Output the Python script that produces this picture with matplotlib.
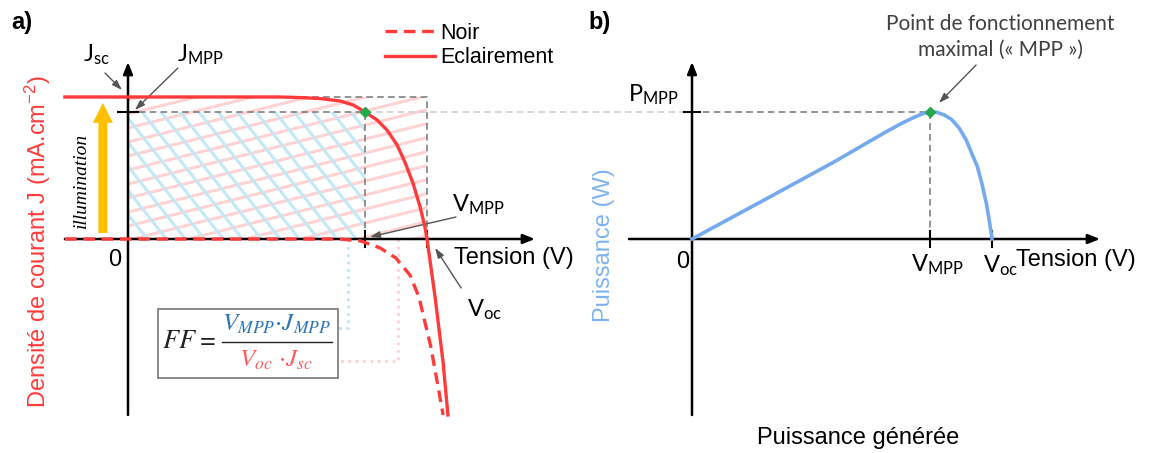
import numpy as np
import matplotlib.pyplot as plt
from matplotlib.patches import Rectangle, FancyArrow
from matplotlib.collections import LineCollection

plt.rcParams['font.family'] = ['Liberation Sans', 'DejaVu Sans']
plt.rcParams['mathtext.default'] = 'regular'

# points caracteristiques (unites normalisees : Voc = 1, Jsc = 1, Pmpp = 1)
V_MPP, J_MPP = 0.793, 0.894
V_OC, J_SC = 1.0, 1.0
P_MPP = 1.0

# courbe J(V) sous eclairement
v_light = [-0.211, 0.508, 0.575, 0.642, 0.709, 0.753, 0.793, 0.833, 0.866, 0.900,
           0.926, 0.953, 0.977, 0.993, 1.0, 1.027, 1.054, 1.070]
j_light = [1.0, 1.0, 0.996, 0.989, 0.972, 0.944, 0.894, 0.838, 0.768, 0.662,
           0.542, 0.394, 0.225, 0.085, 0.0, -0.408, -0.873, -1.239]

# courbe J(V) dans le noir
v_dark = [-0.211, 0.709, 0.779, 0.843, 0.896, 0.943, 0.973, 1.013, 1.054]
j_dark = [0.0, 0.0, -0.014, -0.063, -0.134, -0.254, -0.408, -0.761, -1.239]

# puissance generee P(V)
v_pow = [0.0, 0.235, 0.476, 0.600, 0.650, 0.700, 0.740, 0.770, 0.793, 0.815, 0.840,
         0.866, 0.890, 0.914, 0.935, 0.951, 0.967, 0.981, 0.992, 1.0]
p_pow = [0.0, 0.300, 0.610, 0.780, 0.848, 0.912, 0.958, 0.988, 1.0, 0.998, 0.978,
         0.940, 0.875, 0.780, 0.660, 0.572, 0.430, 0.283, 0.130, 0.0]

RED = '#FF3B3B'
BLUE = '#75AAEE'
GREEN = '#21A94B'
GREY = '#808080'
ARR = '#555555'

W, H = 1151, 453
fig = plt.figure(figsize=(W / 100, H / 100), dpi=100)


def arrow(ax, xy, xytext, color=ARR, lw=1.0, hl=0.6, hw=0.2):
    ax.annotate('', xy=xy, xytext=xytext, annotation_clip=False,
                arrowprops=dict(arrowstyle='-|>,head_length=%g,head_width=%g' % (hl, hw),
                                color=color, lw=lw, shrinkA=0, shrinkB=0))


# ---------------- a) ----------------
ax1 = fig.add_axes([60 / W, 33 / H, 480 / W, 362 / H])
ax1.set_xlim(-0.2274, 1.3779)
ax1.set_ylim(-1.2746, 1.2746)
ax1.axis('off')

# hachures
clip_pink = Rectangle((0, 0), V_OC, J_SC, fc='none', ec='none')
ax1.add_patch(clip_pink)
segs = [[(-0.1, y0 - 0.05), (1.2, y0 + 0.505 * 1.25)] for y0 in np.arange(-0.7, 1.1, 0.0986)]
lc = LineCollection(segs, colors='#FFD3D3', linewidths=2.2, zorder=1)
ax1.add_collection(lc)
lc.set_clip_path(clip_pink)

clip_blue = Rectangle((0, 0), V_MPP, J_MPP, fc='none', ec='none')
ax1.add_patch(clip_blue)
segs = [[(x0, -0.05), (x0 - 1.0 / 2.67, 0.95)] for x0 in np.arange(0.02, 1.2, 0.0635)]
lc = LineCollection(segs, colors='#C3E8F6', linewidths=2.2, zorder=2)
ax1.add_collection(lc)
lc.set_clip_path(clip_blue)

# rectangles en tirets
ax1.plot([0, V_OC, V_OC], [J_SC, J_SC, 0], ls=(0, (4, 2.5)), color=GREY, lw=1.2, zorder=3)
ax1.plot([0, V_MPP, V_MPP], [J_MPP, J_MPP, 0], ls=(0, (4, 2.5)), color=GREY, lw=1.2, zorder=3)
ax1.plot([V_MPP, 1.886], [J_MPP, J_MPP], ls=(0, (4, 2.5)), color='#CFCFCF', lw=1.2,
         zorder=3, clip_on=False)

# pointilles vers la formule
ax1.plot([0.736, 0.736, 0.686], [0, -0.627, -0.627], ls=':', color='#BDE3F5', lw=2, zorder=3)
ax1.plot([0.903, 0.903, 0.649], [0, -0.859, -0.859], ls=':', color='#FFD0D0', lw=2, zorder=3)

# axes
arrow(ax1, (1.361, 0), (-0.211, 0), color='black', lw=1.8, hl=0.7, hw=0.28)
arrow(ax1, (0, 1.246), (0, -1.239), color='black', lw=1.8, hl=0.7, hw=0.28)
for y in (J_SC, J_MPP):
    ax1.plot([-0.033, 0.033], [y, y], color='black', lw=1.5, zorder=5)
for x in (V_MPP, V_OC):
    ax1.plot([x, x], [0.056, -0.056], color='black', lw=1.5, zorder=5)

# courbes
dark, = ax1.plot(v_dark, j_dark, color=RED, lw=2.4, ls=(0, (3.5, 2)), label='Noir', zorder=6)
light, = ax1.plot(v_light, j_light, color=RED, lw=2.4, label='Eclairement', zorder=6,
                  solid_joinstyle='round')
ax1.plot([V_MPP], [J_MPP], marker='D', ms=5, color=GREEN, zorder=7)

ax1.legend(handles=[dark, light], loc='upper left', bbox_to_anchor=(385 / W, 1 - 23 / H),
           bbox_transform=fig.transFigure, frameon=False, fontsize=15.5,
           handlelength=2.3, handletextpad=0.25, borderpad=0, borderaxespad=0,
           labelspacing=0.15)

# fleche illumination
ax1.add_patch(FancyArrow(-0.084, 0.042, 0, 0.916 - 0.14, width=0.030, head_width=0.067,
                         head_length=0.14, length_includes_head=False, color='#FFC000',
                         ec='none', zorder=4))
ax1.text(-0.155, 0.415, 'illumination', rotation=90, ha='center', va='center',
         family='Liberation Serif', style='italic', fontsize=14)

# textes
ax1.text(-0.107, 1.296, 'J$_{sc}$', family='Lato', fontsize=17, ha='center', va='center')
ax1.text(0.241, 1.296, 'J$_{MPP}$', family='Lato', fontsize=17, ha='center', va='center')
ax1.text(1.171, 0.239, 'V$_{MPP}$', family='Lato', fontsize=17, ha='center', va='center')
ax1.text(1.191, -0.5, 'V$_{oc}$', family='Lato', fontsize=17, ha='center', va='center')
arrow(ax1, (-0.020, 1.049), (-0.077, 1.169))
arrow(ax1, (0.023, 0.908), (0.167, 1.204))
arrow(ax1, (0.809, 0.014), (1.097, 0.155))
arrow(ax1, (1.027, -0.063), (1.114, -0.345))

ax1.text(-0.043, -0.148, '0', fontsize=17, ha='center', va='center')
ax1.text(1.09, -0.134, 'Tension (V)', fontsize=17, ha='left', va='center')
ax1.text(-0.301, -0.021, 'Densité de courant J (mA.cm$^{-2}$)', rotation=90, color=RED,
         fontsize=17, ha='center', va='center')

# formule du facteur de forme
ax1.add_patch(Rectangle((0.100, -0.979), 0.602, 0.486, fc='white', ec=GREY, lw=1.3, zorder=4))
fkw = dict(family='STIXGeneral', style='italic', math_fontfamily='stix',
           ha='center', va='center', zorder=5)
ax1.text(0.205, -0.725, '$FF =$', fontsize=19, color='#222222', **fkw)
ax1.plot([0.314, 0.682], [-0.725, -0.725], color='#222222', lw=1.0, zorder=5)
ax1.text(0.498, -0.600, r'$V_{MPP}{\cdot}J_{MPP}$', fontsize=18, color='#2E75B6', **fkw)
ax1.text(0.495, -0.858, r'$V_{oc}\ {\cdot}J_{sc}$', fontsize=18, color='#FF5B5B', **fkw)

# ---------------- b) ----------------
ax2 = fig.add_axes([600 / W, 33 / H, 520 / W, 362 / H])
ax2.set_xlim(-0.3067, 1.4267)
ax2.set_ylim(-1.4252, 1.4252)
ax2.axis('off')

ax2.plot([0, V_MPP, V_MPP], [P_MPP, P_MPP, 0], ls=(0, (4, 2.5)), color=GREY, lw=1.2, zorder=3)
arrow(ax2, (1.36, 0), (-0.21, 0), color='black', lw=1.8, hl=0.7, hw=0.28)
arrow(ax2, (0, 1.394), (0, -1.386), color='black', lw=1.8, hl=0.7, hw=0.28)
ax2.plot([-0.027, 0.027], [P_MPP, P_MPP], color='black', lw=1.5, zorder=5)
for x in (V_MPP, V_OC):
    ax2.plot([x, x], [0.063, -0.063], color='black', lw=1.5, zorder=5)

ax2.plot(v_pow, p_pow, color=BLUE, lw=2.6, zorder=6, solid_joinstyle='round')
ax2.plot([V_MPP], [P_MPP], marker='D', ms=5, color=GREEN, zorder=7)

ax2.text(-0.03, -0.181, '0', fontsize=17, ha='center', va='center')
ax2.text(0.817, -0.205, 'V$_{MPP}$', family='Lato', fontsize=17, ha='center', va='center')
ax2.text(1.03, -0.213, 'V$_{oc}$', family='Lato', fontsize=17, ha='center', va='center')
ax2.text(1.08, -0.165, 'Tension (V)', fontsize=17, ha='left', va='center')
ax2.text(0.553, -1.567, 'Puissance générée', fontsize=17, ha='center', va='center')
ax2.text(-0.293, -0.047, 'Puissance (W)', rotation=90, color='#7EB3F0', fontsize=17,
         ha='center', va='center')
ax2.text(-0.127, 1.134, 'P$_{MPP}$', family='Lato', fontsize=17, ha='center', va='center')
ax2.text(1.027, 1.59, 'Point de fonctionnement\nmaximal (« MPP »)', family='Lato',
         fontsize=15, color='#404040', ha='center', va='center', linespacing=1.35)
arrow(ax2, (0.823, 1.071), (0.947, 1.370))

fig.text(22 / W, 1 - 22 / H, 'a)', fontsize=17, fontweight='bold', ha='center', va='center')
fig.text(600 / W, 1 - 22 / H, 'b)', fontsize=17, fontweight='bold', ha='center', va='center')

fig.savefig('out.png', dpi=100)
